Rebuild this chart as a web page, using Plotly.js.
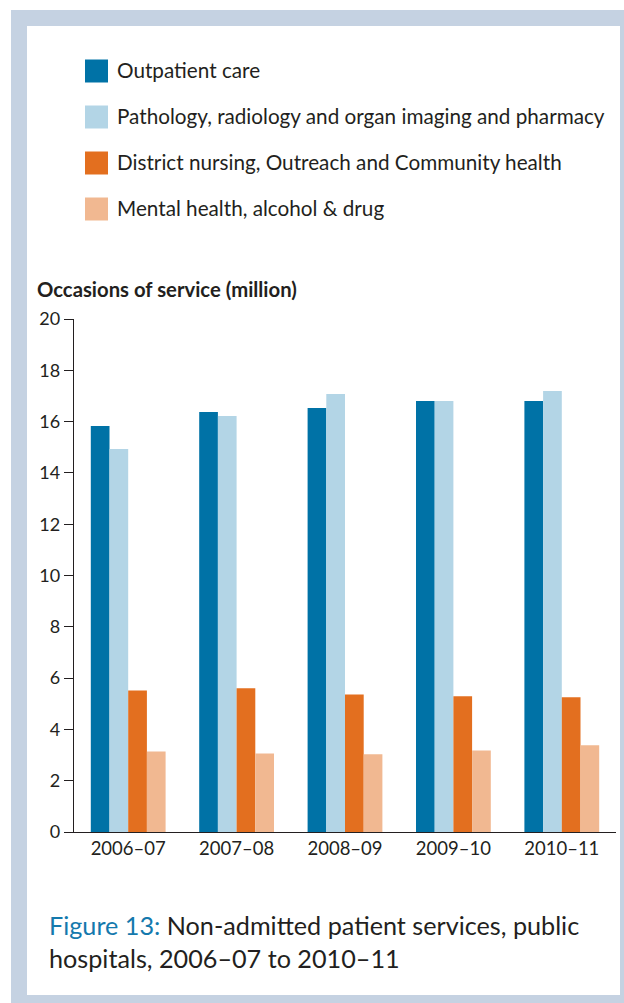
<!DOCTYPE html>
<html>
<head>
<meta charset="utf-8">
<script src="https://cdn.plot.ly/plotly-3.0.1.min.js"></script>
<style>
  html, body { margin: 0; padding: 0; background: #ffffff; }
  #chart { width: 624px; height: 1003px; }
</style>
</head>
<body>
<div id="chart"></div>
<script>
// ---- Data ----
const categories = ["2006–07", "2007–08", "2008–09", "2009–10", "2010–11"];
const seriesNames = [
  "Outpatient care",
  "Pathology, radiology and organ imaging and pharmacy",
  "District nursing, Outreach and Community health",
  "Mental health, alcohol & drug"
];
const outpatientCare = [15.83, 16.37, 16.53, 16.80, 16.80];
const pathologyRadiologyPharmacy = [14.93, 16.22, 17.08, 16.80, 17.19];
const districtNursingCommunity = [5.52, 5.60, 5.36, 5.29, 5.25];
const mentalHealthAlcoholDrug = [3.14, 3.06, 3.03, 3.18, 3.38];
const yTickValues = [0, 2, 4, 6, 8, 10, 12, 14, 16, 18, 20];
const yAxisTitle = "Occasions of service (million)";
const captionLabel = "Figure 13:";
const captionText = "Non-admitted patient services, public<br>hospitals, 2006–07 to 2010–11";

// ---- Styles ----
const seriesColors = ["#0072a6", "#b3d5e6", "#e36f1f", "#f1b891"];
const textColor = "#231f20";
const frameColor = "#c5d2e2";
const captionColor = "#1479ad";
const fontFamily = "Lato, 'Open Sans', sans-serif";

const W = 624, H = 1003;
const M = { l: 74, r: 8, t: 319, b: 171 };
const plotW = W - M.l - M.r, plotH = H - M.t - M.b;
const fx = px => (px - M.l) / plotW;
const fy = py => (H - M.b - py) / plotH;

const allValues = [outpatientCare, pathologyRadiologyPharmacy, districtNursingCommunity, mentalHealthAlcoholDrug];

const traces = allValues.map((vals, i) => ({
  type: "bar",
  name: seriesNames[i],
  x: categories,
  y: vals,
  marker: { color: seriesColors[i], line: { width: 0 } },
  hoverinfo: "x+y+name",
  showlegend: false
}));

const shapes = [
  { type: "rect", xref: "paper", yref: "paper", layer: "below",
    x0: fx(11), x1: fx(W + 5), y0: fy(10), y1: fy(H + 5),
    fillcolor: frameColor, line: { width: 0 } },
  { type: "rect", xref: "paper", yref: "paper", layer: "below",
    x0: fx(27), x1: fx(620), y0: fy(26), y1: fy(995),
    fillcolor: "#ffffff", line: { width: 0 } }
];

const annotations = [];
const legendRows = [71, 117, 163, 209];
seriesNames.forEach((name, i) => {
  const c = legendRows[i];
  shapes.push({ type: "rect", xref: "paper", yref: "paper",
    x0: fx(85), x1: fx(108), y0: fy(c - 11.5), y1: fy(c + 11.5),
    fillcolor: seriesColors[i], line: { width: 0 } });
  annotations.push({ xref: "paper", yref: "paper", x: fx(115), y: fy(c - 1),
    xanchor: "left", yanchor: "middle", showarrow: false, text: name,
    font: { family: fontFamily, size: 20.7, color: textColor } });
});

annotations.push({ xref: "paper", yref: "paper", x: fx(35), y: fy(289),
  xanchor: "left", yanchor: "middle", showarrow: false,
  text: "<b>" + yAxisTitle + "</b>",
  font: { family: fontFamily, size: 20.3, color: textColor } });

annotations.push({ xref: "paper", yref: "paper", x: fx(47), y: fy(942),
  xanchor: "left", yanchor: "middle", align: "left", showarrow: false,
  text: '<span style="color:' + captionColor + '">' + captionLabel + '</span> ' + captionText,
  font: { family: fontFamily, size: 25.2, color: textColor } });

const layout = {
  width: W, height: H,
  margin: M,
  paper_bgcolor: "#ffffff",
  plot_bgcolor: "rgba(0,0,0,0)",
  barmode: "group",
  bargap: 0.31,
  bargroupgap: 0,
  showlegend: false,
  font: { family: fontFamily, color: textColor },
  xaxis: {
    type: "category",
    range: [-0.5, 4.5],
    showline: true, linecolor: textColor, linewidth: 1.3,
    ticks: "", showgrid: false, zeroline: false,
    tickfont: { family: fontFamily, size: 18.5, color: textColor },
    fixedrange: true
  },
  yaxis: {
    range: [0, 20],
    tickvals: yTickValues,
    ticktext: yTickValues.map(String),
    showline: true, linecolor: textColor, linewidth: 1.3,
    ticks: "outside", ticklen: 9, tickwidth: 1.3, tickcolor: textColor,
    showgrid: false, zeroline: false,
    tickfont: { family: fontFamily, size: 18, color: textColor },
    fixedrange: true
  },
  shapes: shapes,
  annotations: annotations
};

Plotly.newPlot("chart", traces, layout, { displayModeBar: false });
</script>
</body>
</html>
